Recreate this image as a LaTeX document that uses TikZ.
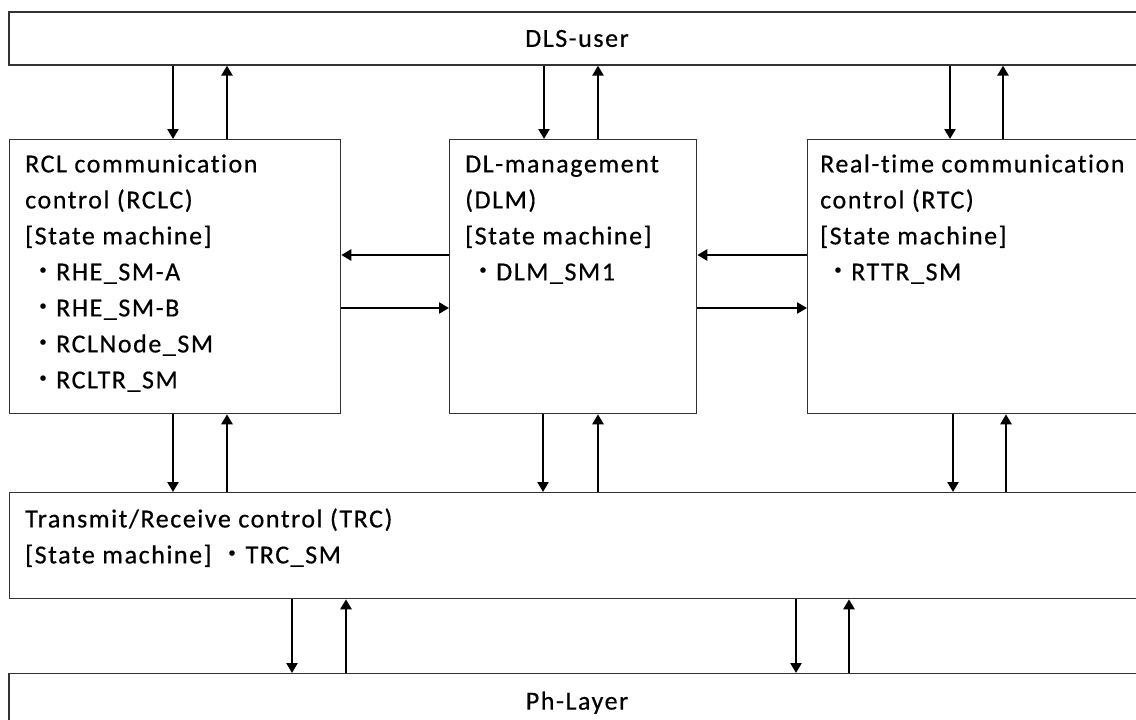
\documentclass[tikz,border=0pt]{standalone}
\usepackage{fontspec}
\setmainfont{Carlito}[LetterSpace=6,Ligatures=NoCommon,FakeBold=0.5]
\newfontfamily\jpfont{Noto Sans CJK JP}
\usetikzlibrary{arrows.meta}
\newcommand\smitem[1]{\hspace*{5pt}{\jpfont ・}#1}

\begin{document}
\begin{tikzpicture}
    [   x = 1pt
    ,   y = -1pt
    ,   > = {Triangle[length=10pt,width=11pt]}
    ,   block/.style =
        {   draw = black!80
        ,   line width = 1.3pt
        ,   inner sep = 0pt
        ,   font = \fontsize{26}{36}\selectfont
        }
    ,   boxtext/.style =
        {   anchor = north west
        ,   align = left
        ,   inner sep = 0pt
        ,   font = \fontsize{26}{36}\selectfont
        }
    ,   flow/.style = {->, line width = 2.7pt}
    ]
    \useasboundingbox (0,0) rectangle (1136,720);
    \clip (0,0) rectangle (1136,720);

    \node[block, minimum width=1136pt, minimum height=53pt] (user) at (577,38.5) {DLS-user};
    \node[block, anchor=north west, minimum width=331pt, minimum height=274pt] (rclc) at (9,139) {};
    \node[block, anchor=north west, minimum width=247pt, minimum height=274pt] (dlm) at (449,139) {};
    \node[block, anchor=north west, minimum width=350pt, minimum height=274pt] (rtc) at (807,139) {};
    \node[block, anchor=north west, minimum width=1136pt, minimum height=106pt] (trc) at (9,492) {};
    \node[block, anchor=north, minimum width=1136pt, minimum height=58pt] (ph) at (577,673) {Ph-Layer};

    \node[boxtext] (rclct) at ([shift={(16,8)}]rclc.north west)
        {\strut RCL communication\\control (RCLC)\\{}[State machine]\\
         \smitem{RHE\_SM-A}\\\smitem{RHE\_SM-B}\\\smitem{RCLNode\_SM}\\\smitem{RCLTR\_SM}};
    \node[boxtext] (dlmt) at ([shift={(16,8)}]dlm.north west)
        {\strut DL-management\\(DLM)\\{}[State machine]\\\smitem{DLM\_SM1}};
    \node[boxtext] (rtct) at ([shift={(13,8)}]rtc.north west)
        {\strut Real-time communication\\control (RTC)\\{}[State machine]\\\smitem{RTTR\_SM}};
    \node[boxtext] (trct) at ([shift={(16,10)}]trc.north west)
        {\strut Transmit/Receive control (TRC)\\{}[State machine]\hspace*{8pt}{\jpfont ・}TRC\_SM};

    % vertical pairs: down x / up x / upper box / lower box
    \foreach \d/\u/\p/\q in
        {173/227/user/rclc, 544/598/user/dlm, 950/1003/user/rtc,
         173/227/rclc/trc, 543/598/dlm/trc, 953/1006/rtc/trc,
         292/346/trc/ph, 796/849/trc/ph}
    {   \draw[flow] (\d,0 |- \p.south) -- (\d,0 |- \q.north);
        \draw[flow] (\u,0 |- \q.north) -- (\u,0 |- \p.south);
    }
    % horizontal pairs
    \draw[flow] (dlm.west |- 0,255) -- (rclc.east |- 0,255);
    \draw[flow] (rclc.east |- 0,308) -- (dlm.west |- 0,308);
    \draw[flow] (rtc.west |- 0,255) -- (dlm.east |- 0,255);
    \draw[flow] (dlm.east |- 0,308) -- (rtc.west |- 0,308);

\end{tikzpicture}
\end{document}
